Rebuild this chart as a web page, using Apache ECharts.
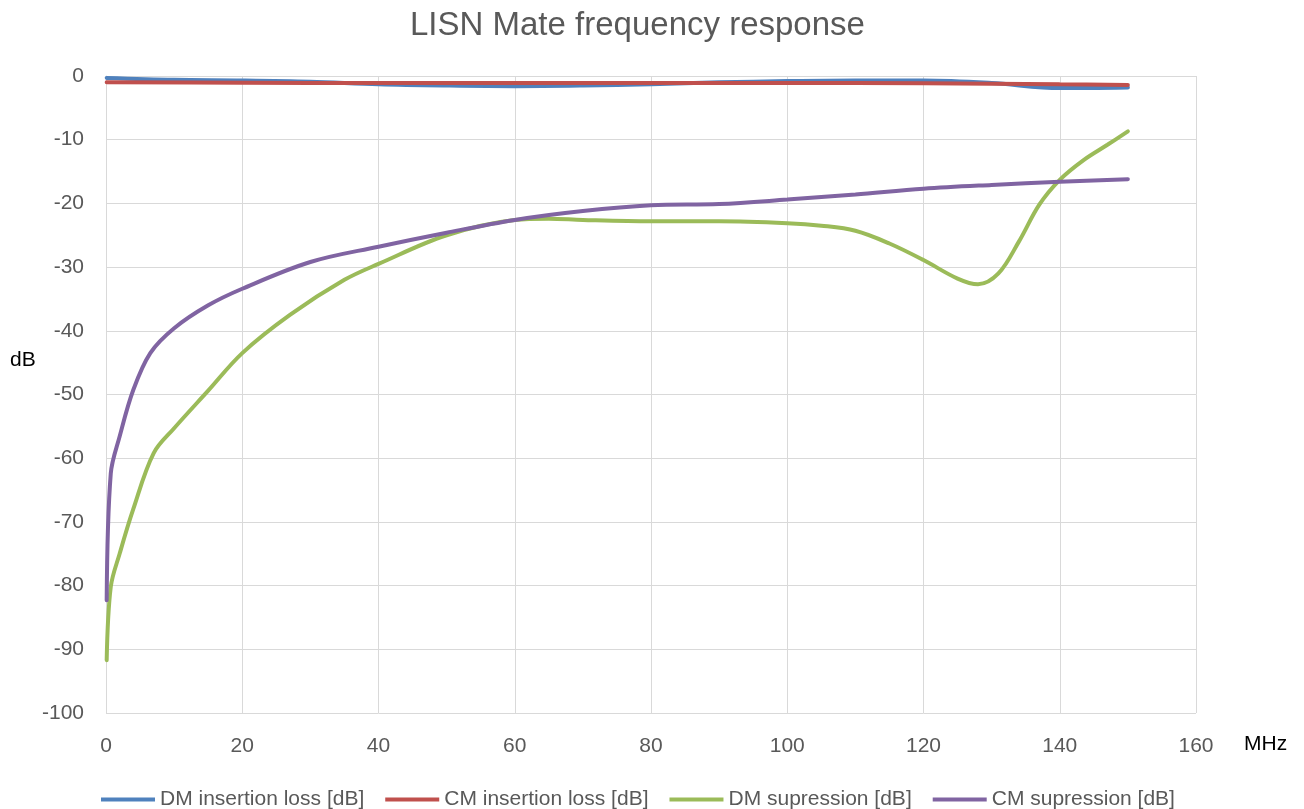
<!DOCTYPE html>
<html><head><meta charset="utf-8">
<script src="https://cdn.jsdelivr.net/npm/echarts@6/dist/echarts.min.js"></script>
<style>html,body{margin:0;padding:0;background:#fff}#c{width:1304px;height:809px}</style>
</head><body><div id="c"></div>
<script>
const seriesNames = ["DM insertion loss [dB]", "CM insertion loss [dB]", "DM supression [dB]", "CM supression [dB]"];
const xTicks = [0, 20, 40, 60, 80, 100, 120, 140, 160];
const yTicks = [0, -10, -20, -30, -40, -50, -60, -70, -80, -90, -100];

const dmIlFreq = [0.1, 10, 20, 30, 40, 50, 60, 70, 80, 90, 100, 110, 120, 130, 140, 150];
const dmIlVal  = [-0.3, -0.6, -0.7, -0.9, -1.3, -1.5, -1.6, -1.5, -1.3, -1.0, -0.8, -0.7, -0.7, -1.1, -1.9, -1.8];

const cmIlFreq = [0.1, 20, 40, 60, 80, 100, 120, 130, 140, 150];
const cmIlVal  = [-1.0, -1.05, -1.1, -1.1, -1.1, -1.1, -1.15, -1.2, -1.3, -1.4];

const dmSupFreq = [0.1, 0.7, 2, 4, 7, 10, 15, 20, 27, 35, 40, 50, 60, 65, 70, 80, 90, 100, 105, 110, 115, 120, 125, 128, 131, 134, 137, 140, 143.5, 147, 150];
const dmSupVal  = [-91.7, -80.2, -75, -68, -59.2, -55.3, -49.4, -43.5, -37.5, -32, -29.5, -25, -22.6, -22.4, -22.6, -22.8, -22.8, -23.1, -23.5, -24.3, -26.3, -28.9, -31.8, -32.7, -31, -26, -20.2, -16.3, -13.2, -10.8, -8.7];

const cmSupFreq = [0.1, 0.7, 2, 4, 6.5, 10, 15, 20, 30, 40, 50, 60, 70, 80, 90, 100, 110, 120, 130, 140, 150];
const cmSupVal  = [-82.3, -62.4, -56.6, -49.3, -43.5, -39.6, -36.0, -33.4, -29.2, -26.8, -24.6, -22.6, -21.2, -20.3, -20.1, -19.4, -18.6, -17.7, -17.1, -16.6, -16.2];

const colors = ["#4f81bd", "#c0504d", "#9bbb59", "#8064a2"];
const FONT = "'Liberation Sans', Arial, sans-serif";

function pairs(xs, ys) { return xs.map((x, i) => [x, ys[i]]); }
const datasets = [pairs(dmIlFreq, dmIlVal), pairs(cmIlFreq, cmIlVal), pairs(dmSupFreq, dmSupVal), pairs(cmSupFreq, cmSupVal)];

const chart = echarts.init(document.getElementById('c'), null, {renderer: 'canvas'});
chart.setOption({
  animation: false,
  backgroundColor: '#fff',
  color: colors,
  title: {
    text: 'LISN Mate frequency response',
    left: 405, top: 4,
    textStyle: {fontFamily: FONT, fontSize: 33, fontWeight: 'normal', color: '#595959'}
  },
  legend: {
    top: 784, left: 96,
    icon: 'rect', itemWidth: 54, itemHeight: 4, itemGap: 21,
    textStyle: {fontFamily: FONT, fontSize: 21, color: '#595959'},
    data: seriesNames
  },
  graphic: [
    {type: 'text', left: 10, top: 350, style: {text: 'dB', fontFamily: FONT, fontSize: 21, fill: '#000'}},
    {type: 'text', left: 1244, top: 734, style: {text: 'MHz', fontFamily: FONT, fontSize: 21, fill: '#000'}}
  ],
  grid: {left: 106, right: 108, top: 76, bottom: 96, containLabel: false},
  xAxis: {
    type: 'value', min: 0, max: 160, interval: 20,
    axisLine: {show: true, lineStyle: {color: '#d9d9d9', width: 1}},
    axisTick: {show: false},
    axisLabel: {fontFamily: FONT, fontSize: 21, color: '#595959', margin: 23, formatter: v => xTicks.includes(v) ? String(v) : ''},
    splitLine: {show: true, lineStyle: {color: '#d9d9d9', width: 1}}
  },
  yAxis: {
    type: 'value', min: -100, max: 0, interval: 10,
    axisLine: {show: true, lineStyle: {color: '#d9d9d9', width: 1}},
    axisTick: {show: false},
    axisLabel: {fontFamily: FONT, fontSize: 21, color: '#595959', margin: 22, formatter: v => yTicks.includes(v) ? String(v) : ''},
    splitLine: {show: true, lineStyle: {color: '#d9d9d9', width: 1}}
  },
  series: seriesNames.map((n, i) => ({
    name: n, type: 'line', data: datasets[i],
    showSymbol: false, symbol: 'none', smooth: 0.35,
    lineStyle: {width: 4, color: colors[i], cap: 'round'},
    z: [2, 3, 4, 5][i]
  }))
});
</script></body></html>
